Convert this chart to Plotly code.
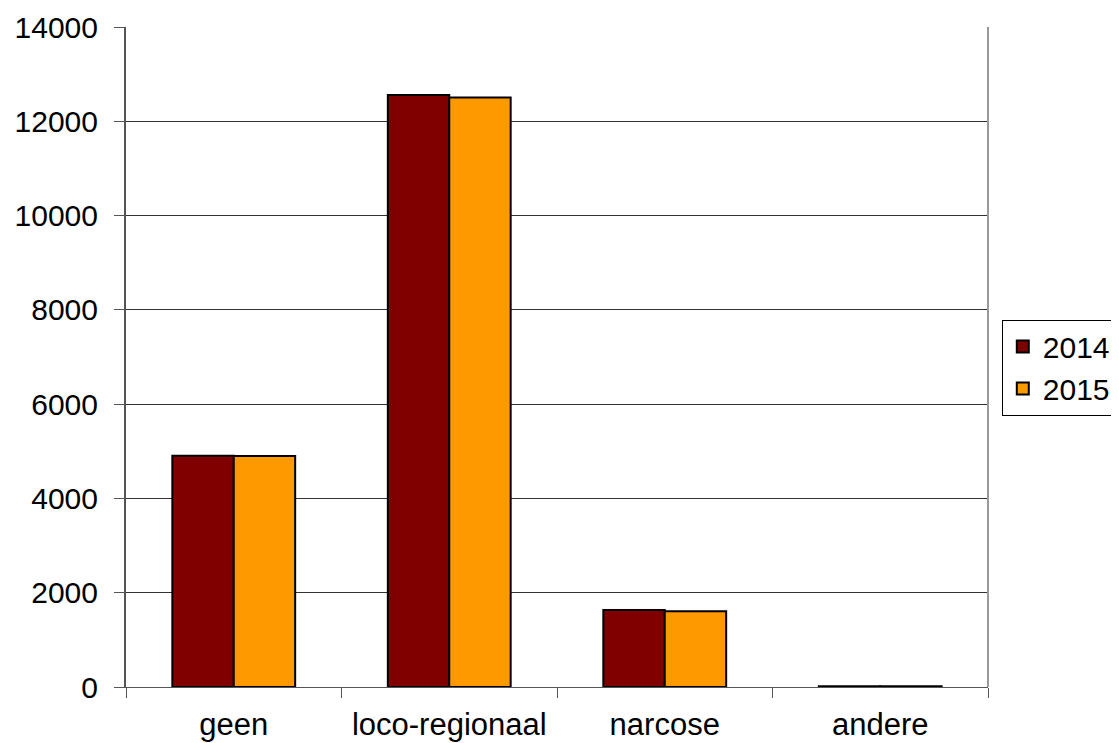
import plotly.graph_objects as go

categories = ["geen", "loco-regionaal", "narcose", "andere"]
series_names = ["2014", "2015"]
values_2014 = [4905, 12555, 1635, 15]
values_2015 = [4900, 12505, 1605, 15]
colors = ["#800000", "#FF9900"]
y_ticks = [0, 2000, 4000, 6000, 8000, 10000, 12000, 14000]

FONT = "Liberation Sans, Arial, sans-serif"

fig = go.Figure()
for name, vals, col in zip(series_names, [values_2014, values_2015], colors):
    fig.add_trace(go.Bar(
        x=categories, y=vals, name=name,
        marker=dict(color=col, line=dict(color="black", width=2)),
    ))

# page body has an 8px default margin, so the figure is sized to fit the window
fig.update_layout(
    width=1111, height=735,
    margin=dict(l=118, r=131, t=19, b=56, autoexpand=False),
    paper_bgcolor="white", plot_bgcolor="white",
    barmode="group", bargap=0.43, bargroupgap=0,
    font=dict(family=FONT, size=31, color="black"),
    showlegend=True,
    legend=dict(
        x=1.016, xanchor="left", y=0.484, yanchor="middle",
        bordercolor="black", borderwidth=1,
        font=dict(family=FONT, size=30, color="black"),
        itemwidth=30, tracegroupgap=0,
    ),
    xaxis=dict(
        type="category",
        tickson="boundaries",
        ticks="outside", ticklen=10, tickcolor="#555555", tickwidth=1,
        ticklabelstandoff=10,
        showline=True, linecolor="#555555", linewidth=1,
        showgrid=False, zeroline=False, automargin=False,
        tickfont=dict(family=FONT, size=31, color="black"),
    ),
    yaxis=dict(
        range=[0, 14000],
        tickvals=y_ticks, ticktext=[str(v) for v in y_ticks],
        ticks="outside", ticklen=10, tickcolor="#555555", tickwidth=1,
        ticklabelstandoff=10,
        showline=True, linecolor="#555555", linewidth=2,
        showgrid=True, gridcolor="#333333", gridwidth=1,
        zeroline=False, automargin=False,
        tickfont=dict(family=FONT, size=30, color="black"),
    ),
)

fig.add_shape(type="line", xref="paper", yref="paper", x0=1, x1=1, y0=0, y1=1,
              line=dict(color="#999999", width=2))

fig.write_html("out.html")
